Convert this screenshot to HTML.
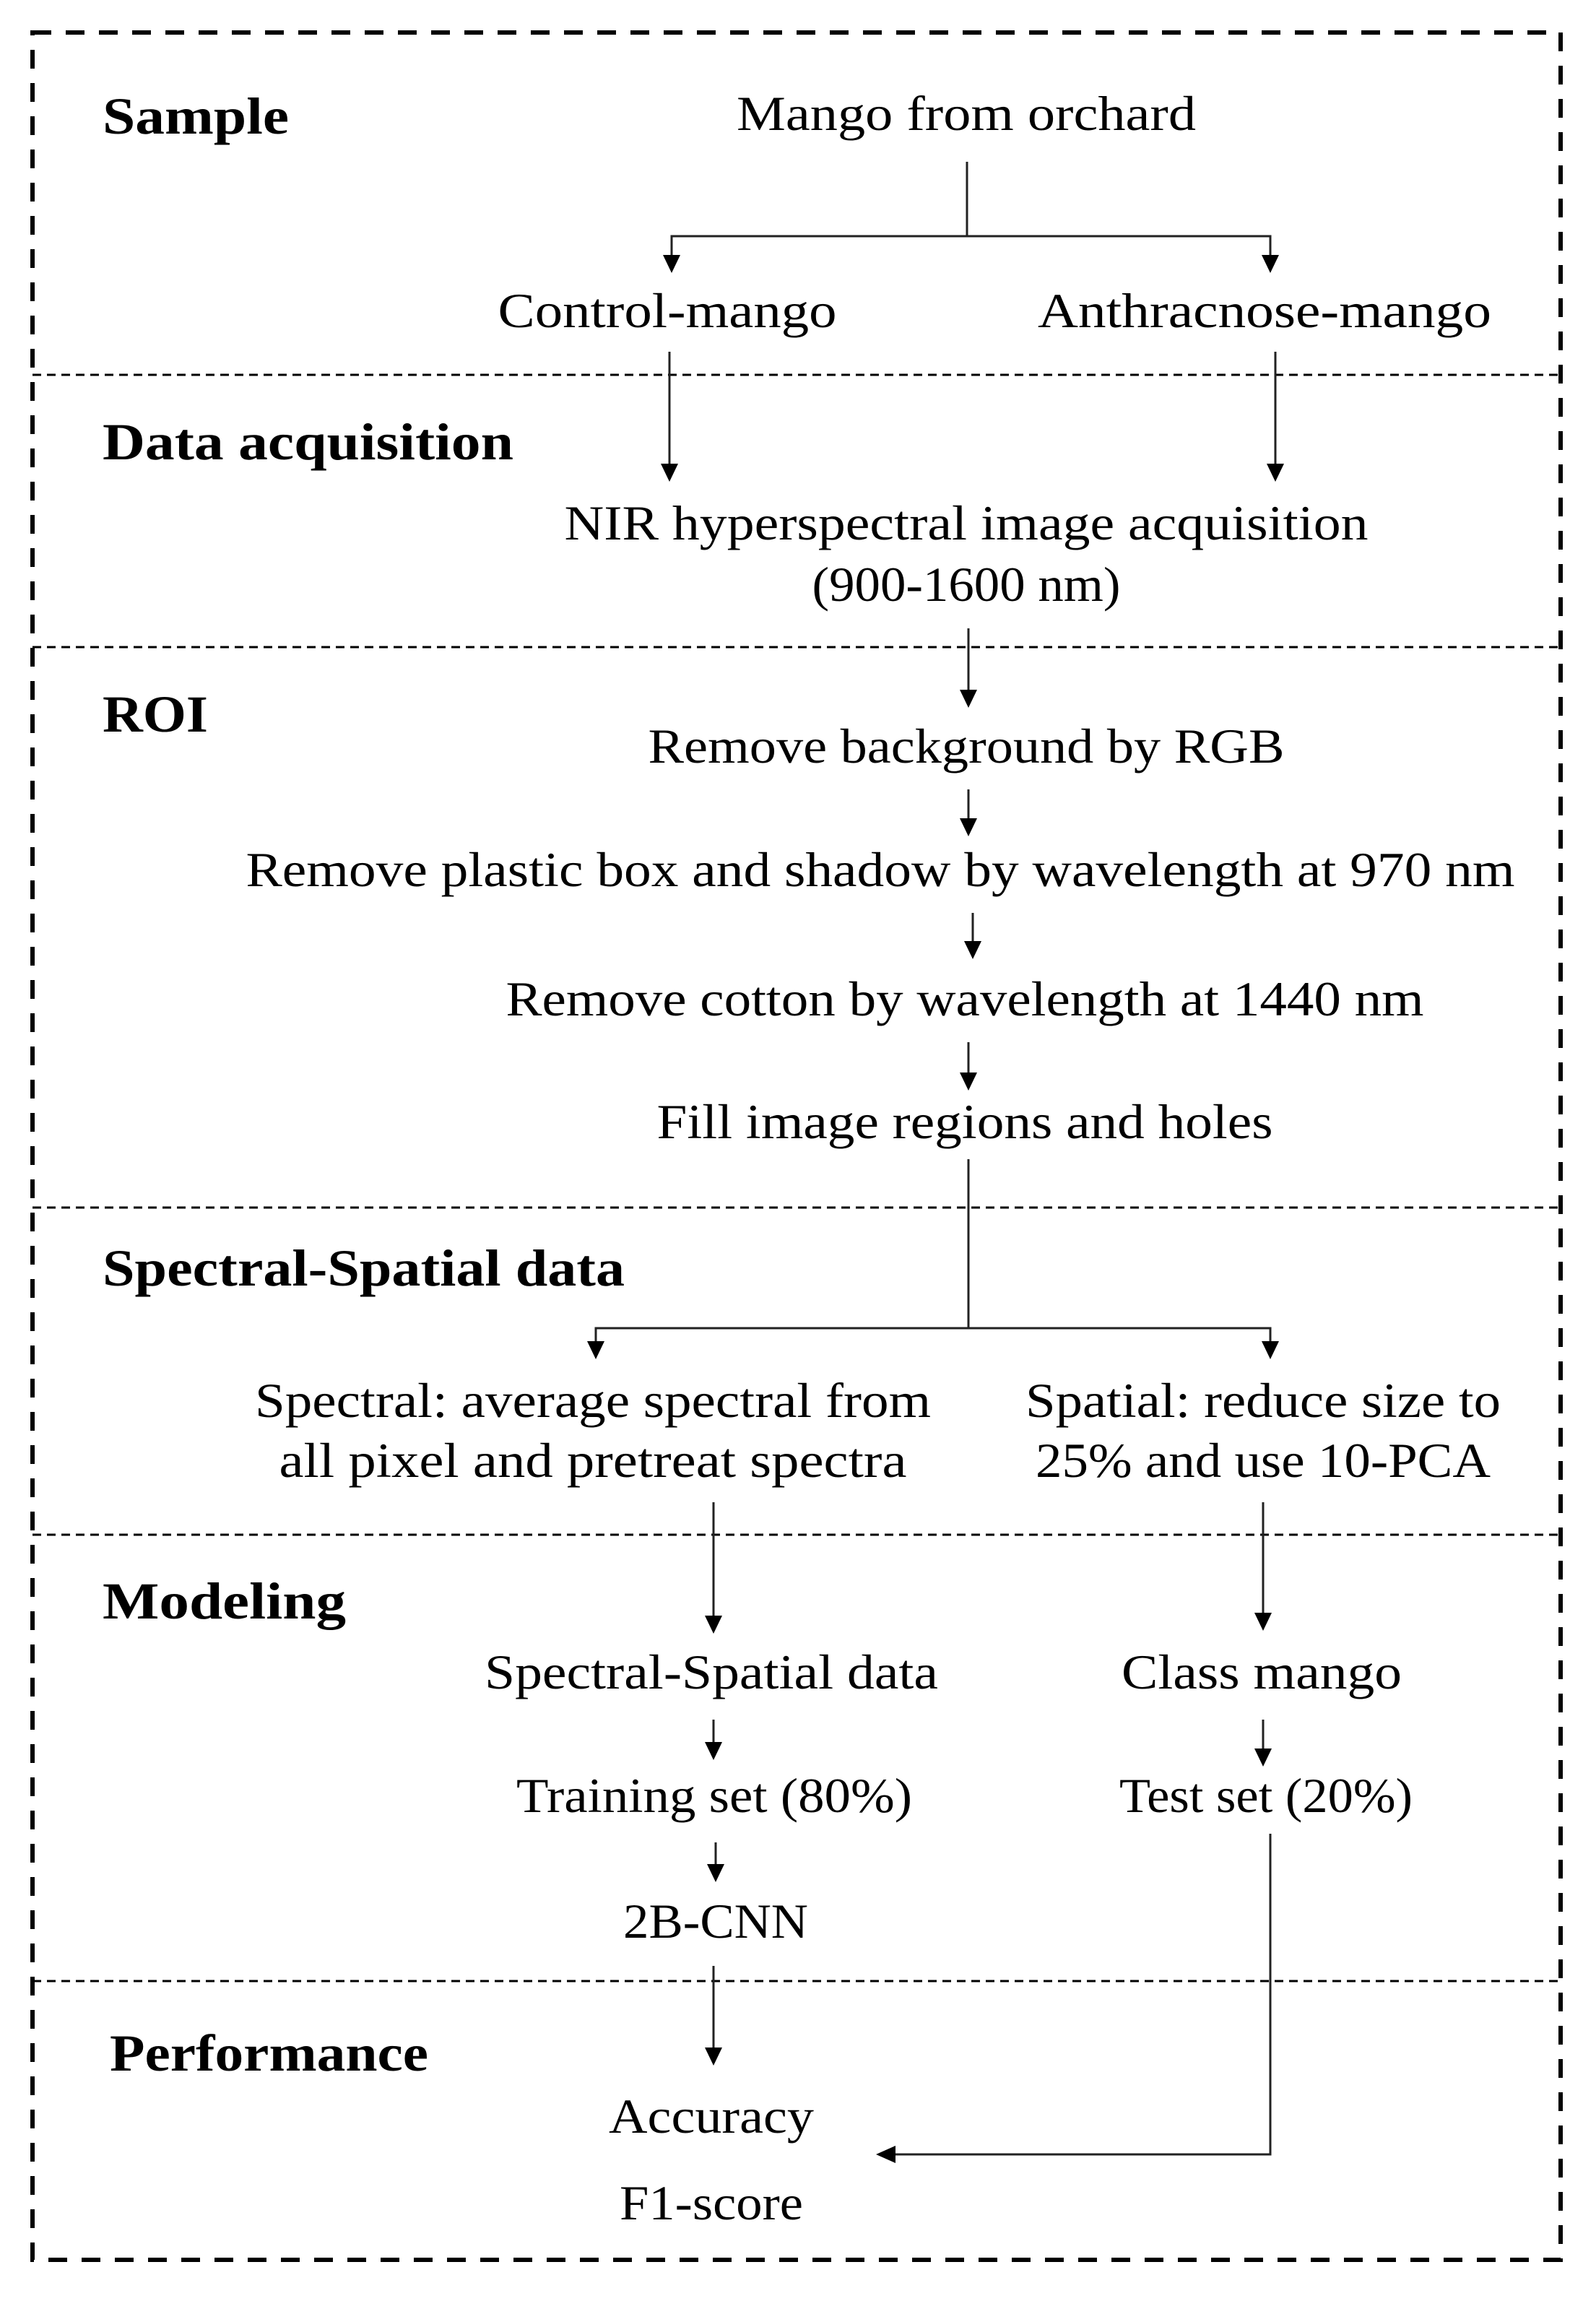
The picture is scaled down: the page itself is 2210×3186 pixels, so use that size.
<!DOCTYPE html>
<html><head><meta charset="utf-8"><style>html,body{margin:0;padding:0;background:#fff}svg{display:block}</style></head>
<body>
<svg width="2210" height="3186" viewBox="0 0 2210 3186" xmlns="http://www.w3.org/2000/svg">
<defs>
<marker id="a" markerWidth="8" markerHeight="8" refX="7" refY="4" orient="auto" markerUnits="userSpaceOnUse" viewBox="0 0 8 8">
</marker>
</defs>
<rect x="45" y="45" width="2116" height="3084" fill="none" stroke="#000" stroke-width="6" stroke-dasharray="26 20"/>
<g stroke="#000" stroke-width="3" stroke-dasharray="12 8">
<line x1="45" y1="519" x2="2161" y2="519"/>
<line x1="45" y1="896" x2="2161" y2="896"/>
<line x1="45" y1="1672" x2="2161" y2="1672"/>
<line x1="45" y1="2125" x2="2161" y2="2125"/>
<line x1="45" y1="2743" x2="2161" y2="2743"/>
</g>
<g stroke="#222" stroke-width="3" fill="none">
<polyline points="1339,224 1339,327 930,327 930,360"/>
<polyline points="1339,327 1759,327 1759,360"/>
<line x1="927" y1="487" x2="927" y2="645"/>
<line x1="1766" y1="487" x2="1766" y2="645"/>
<line x1="1341" y1="870" x2="1341" y2="960"/>
<line x1="1341" y1="1093" x2="1341" y2="1138"/>
<line x1="1347" y1="1264" x2="1347" y2="1308"/>
<line x1="1341" y1="1443" x2="1341" y2="1490"/>
<polyline points="1341,1605 1341,1839 825,1839 825,1862"/>
<polyline points="1341,1839 1759,1839 1759,1862"/>
<line x1="988" y1="2080" x2="988" y2="2242"/>
<line x1="1749" y1="2080" x2="1749" y2="2238"/>
<line x1="988" y1="2381" x2="988" y2="2417"/>
<line x1="1749" y1="2381" x2="1749" y2="2426"/>
<line x1="991" y1="2551" x2="991" y2="2586"/>
<line x1="988" y1="2722" x2="988" y2="2840"/>
<polyline points="1759,2539 1759,2983 1235,2983"/>
</g>
<g fill="#000">
<polygon points="918,353 942,353 930,378"/>
<polygon points="1747,353 1771,353 1759,378"/>
<polygon points="915,642 939,642 927,667"/>
<polygon points="1754,642 1778,642 1766,667"/>
<polygon points="1329,955 1353,955 1341,980"/>
<polygon points="1329,1133 1353,1133 1341,1158"/>
<polygon points="1335,1303 1359,1303 1347,1328"/>
<polygon points="1329,1485 1353,1485 1341,1510"/>
<polygon points="813,1857 837,1857 825,1882"/>
<polygon points="1747,1857 1771,1857 1759,1882"/>
<polygon points="976,2237 1000,2237 988,2262"/>
<polygon points="1737,2233 1761,2233 1749,2258"/>
<polygon points="976,2412 1000,2412 988,2437"/>
<polygon points="1737,2421 1761,2421 1749,2446"/>
<polygon points="979,2581 1003,2581 991,2606"/>
<polygon points="976,2835 1000,2835 988,2860"/>
<polygon points="1240,2971 1240,2995 1213,2983"/>
</g>
<g font-family="'Liberation Serif', serif" font-weight="bold" font-size="72" fill="#000" lengthAdjust="spacingAndGlyphs">
<text x="142" y="185" textLength="258" lengthAdjust="spacingAndGlyphs">Sample</text>
<text x="142" y="636" textLength="569" lengthAdjust="spacingAndGlyphs">Data acquisition</text>
<text x="142" y="1013" textLength="146" lengthAdjust="spacingAndGlyphs">ROI</text>
<text x="142" y="1780" textLength="723" lengthAdjust="spacingAndGlyphs">Spectral-Spatial  data</text>
<text x="142" y="2241" textLength="337" lengthAdjust="spacingAndGlyphs">Modeling</text>
<text x="152" y="2867" textLength="441" lengthAdjust="spacingAndGlyphs">Performance</text>
</g>
<g font-family="'Liberation Serif', serif" font-size="68" fill="#000" text-anchor="middle">
<text x="1338" y="180" textLength="636" lengthAdjust="spacingAndGlyphs">Mango from orchard</text>
<text x="924" y="453" textLength="469" lengthAdjust="spacingAndGlyphs">Control-mango</text>
<text x="1751" y="453" textLength="628" lengthAdjust="spacingAndGlyphs">Anthracnose-mango</text>
<text x="1338" y="747" textLength="1113" lengthAdjust="spacingAndGlyphs">NIR hyperspectral image acquisition</text>
<text x="1338" y="832" textLength="427" lengthAdjust="spacingAndGlyphs">(900-1600 nm)</text>
<text x="1338" y="1056" textLength="881" lengthAdjust="spacingAndGlyphs">Remove background by RGB</text>
<text x="1219" y="1227" textLength="1757" lengthAdjust="spacingAndGlyphs">Remove plastic box and shadow by wavelength at 970 nm</text>
<text x="1336" y="1406" textLength="1271" lengthAdjust="spacingAndGlyphs">Remove cotton by wavelength at 1440 nm</text>
<text x="1336" y="1576" textLength="853" lengthAdjust="spacingAndGlyphs">Fill image regions and holes</text>
<text x="821" y="1962" textLength="936" lengthAdjust="spacingAndGlyphs">Spectral: average spectral from</text>
<text x="821" y="2045" textLength="869" lengthAdjust="spacingAndGlyphs">all pixel and pretreat spectra</text>
<text x="1749" y="1962" textLength="658" lengthAdjust="spacingAndGlyphs">Spatial: reduce size to</text>
<text x="1749" y="2045" textLength="630" lengthAdjust="spacingAndGlyphs">25% and use 10-PCA</text>
<text x="985" y="2338" textLength="628" lengthAdjust="spacingAndGlyphs">Spectral-Spatial data</text>
<text x="1747" y="2338" textLength="388" lengthAdjust="spacingAndGlyphs">Class mango</text>
<text x="989" y="2509" textLength="548" lengthAdjust="spacingAndGlyphs">Training  set (80%)</text>
<text x="1753" y="2509" textLength="406" lengthAdjust="spacingAndGlyphs">Test set (20%)</text>
<text x="991" y="2683" textLength="256" lengthAdjust="spacingAndGlyphs">2B-CNN</text>
<text x="985" y="2953" textLength="284" lengthAdjust="spacingAndGlyphs">Accuracy</text>
<text x="985" y="3073" textLength="254" lengthAdjust="spacingAndGlyphs">F1-score</text>
</g>
</svg>
</body></html>
